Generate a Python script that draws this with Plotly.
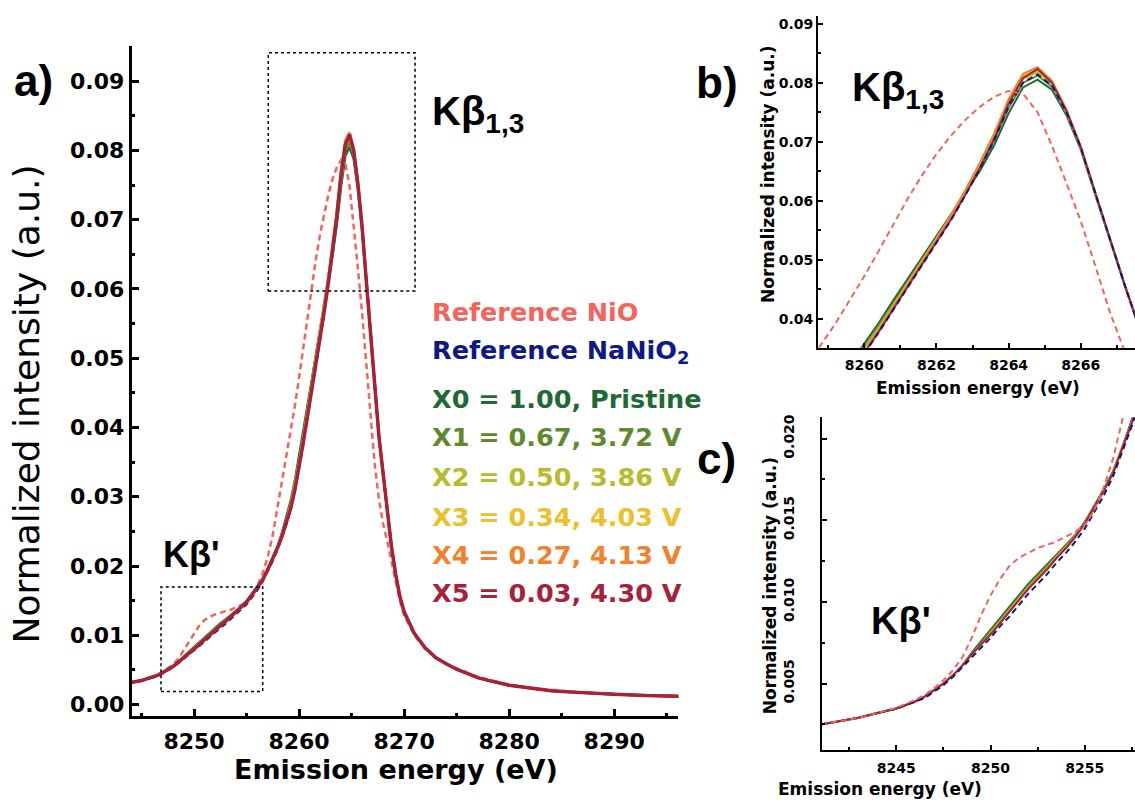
import plotly.graph_objects as go

# ---------------- data ----------------
energy = [8241, 8242, 8243, 8244, 8245, 8246,
          8246.5, 8247, 8247.5, 8248, 8248.5, 8249, 8249.5, 8250, 8250.5, 8251, 8251.5, 8252,
          8252.5, 8253, 8253.5, 8254, 8254.5, 8255, 8255.5, 8256, 8256.5, 8257, 8257.5, 8258,
          8258.4, 8258.8, 8259.2, 8259.6, 8260.0, 8260.4, 8260.8, 8261.2, 8261.6, 8262.0,
          8262.4, 8262.8, 8263.2, 8263.6, 8264.0, 8264.4, 8264.8, 8265.2, 8265.6, 8266.0,
          8266.4, 8266.8, 8267.2, 8267.6, 8268.0, 8268.4, 8268.8, 8269.2, 8269.6, 8270.0,
          8271, 8272, 8273, 8274, 8275, 8276, 8277, 8278, 8280, 8282, 8284, 8286, 8288, 8290, 8293, 8296.5]

ref_nio = [0.0025, 0.0027, 0.0029, 0.0032, 0.0035, 0.0040,
           0.0043, 0.0047, 0.0052, 0.0058, 0.0066, 0.0078, 0.0092, 0.0104, 0.0114, 0.0122, 0.0127, 0.0130,
           0.0133, 0.0135, 0.0137, 0.0140, 0.0143, 0.0147, 0.0156, 0.0170, 0.0188, 0.0212, 0.0245, 0.0290,
           0.0322, 0.0356, 0.0392, 0.0431, 0.0472, 0.0515, 0.0560, 0.0603, 0.0643, 0.0679,
           0.0710, 0.0737, 0.0759, 0.0776, 0.0786, 0.0781, 0.0750, 0.0693, 0.0630, 0.0565,
           0.0490, 0.0412, 0.0347, 0.0297, 0.0261, 0.0235, 0.0208, 0.0178, 0.0150, 0.0129,
           0.0099, 0.0081, 0.0068, 0.0059, 0.0052, 0.0046, 0.0040, 0.0036, 0.0029, 0.0024, 0.0021, 0.0018, 0.0016, 0.0015, 0.0013, 0.0012]

ref_nanio2 = [0.0025, 0.0027, 0.0029, 0.0032, 0.00345, 0.0039,
              0.0041, 0.0045, 0.0049, 0.0054, 0.0060, 0.0066, 0.0072, 0.0078, 0.0085, 0.0091, 0.0098, 0.0105,
              0.0111, 0.0117, 0.0124, 0.0130, 0.0137, 0.0145, 0.0155, 0.0165, 0.0177, 0.0192, 0.0208, 0.0226,
              0.0243, 0.0261, 0.0282, 0.0309, 0.0341, 0.0377, 0.0415, 0.0452, 0.0489, 0.0527,
              0.0567, 0.0609, 0.0654, 0.0703, 0.0760, 0.0800, 0.0814, 0.0795, 0.0750, 0.0690,
              0.0612, 0.0535, 0.0460, 0.0388, 0.0334, 0.0280, 0.0228, 0.0188, 0.0156, 0.0134,
              0.0102, 0.0082, 0.0068, 0.0059, 0.0051, 0.0045, 0.0039, 0.0035, 0.0028, 0.0024, 0.0020, 0.0018, 0.0016, 0.0015, 0.0013, 0.0012]

x0_pristine = [0.0025, 0.0027, 0.0029, 0.0032, 0.00347, 0.0039,
               0.0042, 0.0046, 0.0050, 0.0055, 0.0061, 0.0069, 0.0076, 0.0083, 0.0090, 0.0097, 0.0104, 0.0111,
               0.0117, 0.0123, 0.0129, 0.0135, 0.0141, 0.0149, 0.0159, 0.0169, 0.0180, 0.0195, 0.0212, 0.0230,
               0.0249, 0.0270, 0.0294, 0.0323, 0.0357, 0.0393, 0.0431, 0.0467, 0.0503, 0.0539,
               0.0576, 0.0613, 0.0650, 0.0694, 0.0748, 0.0792, 0.0805, 0.0788, 0.0745, 0.0686,
               0.0610, 0.0534, 0.0460, 0.0388, 0.0334, 0.0280, 0.0228, 0.0188, 0.0156, 0.0134,
               0.0102, 0.0082, 0.0068, 0.0059, 0.0051, 0.0045, 0.0039, 0.0035, 0.0028, 0.0024, 0.0020, 0.0018, 0.0016, 0.0015, 0.0013, 0.0012]

x1_372V = [0.0025, 0.0027, 0.0029, 0.0032, 0.00347, 0.0039,
           0.0042, 0.0046, 0.0050, 0.0055, 0.0061, 0.0068, 0.0075, 0.0082, 0.0089, 0.0096, 0.0103, 0.0110,
           0.0116, 0.0122, 0.0128, 0.0134, 0.0141, 0.0149, 0.0158, 0.0168, 0.0180, 0.0195, 0.0211, 0.0229,
           0.0247, 0.0267, 0.0290, 0.0319, 0.0352, 0.0388, 0.0426, 0.0463, 0.0500, 0.0537,
           0.0575, 0.0614, 0.0656, 0.0702, 0.0757, 0.0800, 0.0812, 0.0793, 0.0748, 0.0688,
           0.0611, 0.0534, 0.0460, 0.0388, 0.0334, 0.0280, 0.0228, 0.0188, 0.0156, 0.0134,
           0.0102, 0.0082, 0.0068, 0.0059, 0.0051, 0.0045, 0.0039, 0.0035, 0.0028, 0.0024, 0.0020, 0.0018, 0.0016, 0.0015, 0.0013, 0.0012]

x2_386V = [0.0025, 0.0027, 0.0029, 0.0032, 0.00347, 0.0039,
           0.0042, 0.0046, 0.0050, 0.0055, 0.0061, 0.0068, 0.0074, 0.0081, 0.0088, 0.0095, 0.0102, 0.0109,
           0.0115, 0.0121, 0.0128, 0.0134, 0.0140, 0.0148, 0.0158, 0.0168, 0.0179, 0.0194, 0.0210, 0.0228,
           0.0246, 0.0265, 0.0288, 0.0316, 0.0349, 0.0385, 0.0423, 0.0460, 0.0497, 0.0535,
           0.0574, 0.0615, 0.0659, 0.0707, 0.0763, 0.0806, 0.0818, 0.0797, 0.0750, 0.0689,
           0.0612, 0.0535, 0.0460, 0.0388, 0.0334, 0.0280, 0.0228, 0.0188, 0.0156, 0.0134,
           0.0102, 0.0082, 0.0068, 0.0059, 0.0051, 0.0045, 0.0039, 0.0035, 0.0028, 0.0024, 0.0020, 0.0018, 0.0016, 0.0015, 0.0013, 0.0012]

x3_403V = [0.0025, 0.0027, 0.0029, 0.0032, 0.00347, 0.0039,
           0.0042, 0.0046, 0.0050, 0.0055, 0.0061, 0.0068, 0.0074, 0.0080, 0.0087, 0.0094, 0.0101, 0.0108,
           0.0114, 0.0120, 0.0127, 0.0133, 0.0140, 0.0148, 0.0158, 0.0168, 0.0179, 0.0194, 0.0210, 0.0228,
           0.0245, 0.0264, 0.0286, 0.0313, 0.0346, 0.0382, 0.0420, 0.0458, 0.0496, 0.0535,
           0.0575, 0.0617, 0.0662, 0.0711, 0.0768, 0.0811, 0.0821, 0.0799, 0.0752, 0.0690,
           0.0612, 0.0535, 0.0460, 0.0388, 0.0334, 0.0280, 0.0228, 0.0188, 0.0156, 0.0134,
           0.0102, 0.0082, 0.0068, 0.0059, 0.0051, 0.0045, 0.0039, 0.0035, 0.0028, 0.0024, 0.0020, 0.0018, 0.0016, 0.0015, 0.0013, 0.0012]

x4_413V = [0.0025, 0.0027, 0.0029, 0.0032, 0.00347, 0.0039,
           0.0042, 0.0046, 0.0050, 0.0055, 0.0061, 0.0068, 0.0074, 0.0080, 0.0087, 0.0094, 0.0101, 0.0108,
           0.0114, 0.0120, 0.0127, 0.0133, 0.0140, 0.0148, 0.0158, 0.0168, 0.0179, 0.0194, 0.0210, 0.0228,
           0.0244, 0.0263, 0.0285, 0.0312, 0.0345, 0.0381, 0.0419, 0.0457, 0.0495, 0.0534,
           0.0575, 0.0618, 0.0664, 0.0714, 0.0772, 0.0815, 0.0826, 0.0803, 0.0755, 0.0692,
           0.0614, 0.0536, 0.0461, 0.0389, 0.0334, 0.0280, 0.0228, 0.0188, 0.0156, 0.0134,
           0.0102, 0.0082, 0.0068, 0.0059, 0.0051, 0.0045, 0.0039, 0.0035, 0.0028, 0.0024, 0.0020, 0.0018, 0.0016, 0.0015, 0.0013, 0.0012]

x5_430V = [0.0025, 0.0027, 0.0029, 0.0032, 0.00347, 0.0039,
           0.0042, 0.0046, 0.0050, 0.0055, 0.0061, 0.0068, 0.0074, 0.0080, 0.0087, 0.0094, 0.0101, 0.0108,
           0.0114, 0.0120, 0.0127, 0.0133, 0.0140, 0.0148, 0.0158, 0.0168, 0.0179, 0.0194, 0.0210, 0.0228,
           0.0244, 0.0262, 0.0283, 0.0310, 0.0342, 0.0378, 0.0416, 0.0453, 0.0490, 0.0528,
           0.0568, 0.0610, 0.0655, 0.0705, 0.0765, 0.0808, 0.0823, 0.0800, 0.0752, 0.0690,
           0.0612, 0.0535, 0.0460, 0.0388, 0.0334, 0.0280, 0.0228, 0.0188, 0.0156, 0.0134,
           0.0102, 0.0082, 0.0068, 0.0059, 0.0051, 0.0045, 0.0039, 0.0035, 0.0028, 0.0024, 0.0020, 0.0018, 0.0016, 0.0015, 0.0013, 0.0012]

labels = ["Reference NiO", "Reference NaNiO<sub>2</sub>", "X0 = 1.00, Pristine",
          "X1 = 0.67, 3.72 V", "X2 = 0.50, 3.86 V", "X3 = 0.34, 4.03 V",
          "X4 = 0.27, 4.13 V", "X5 = 0.03, 4.30 V"]
colors = ["#F5635A", "#0E1987", "#1E6A33", "#5F8A2C", "#B6BC2C", "#EBC12B", "#F2812A", "#A8213A"]
values = [ref_nio, ref_nanio2, x0_pristine, x1_372V, x2_386V, x3_403V, x4_413V, x5_430V]
dashed = [True, True, False, False, False, False, False, False]

# zoom boxes drawn in panel a (data coordinates)
box_k13 = dict(x0=8257.07, x1=8271.04, y0=0.0597, y1=0.0941)
box_kp = dict(x0=8246.86, x1=8256.54, y0=0.0019, y1=0.01697)

W, H = 1135, 802
def px(x):
    return x / W
def py(y):
    return 1 - y / H

fig = go.Figure()

def add_panel(xa, ya, order, wsolid, wlast, wdash):
    for i in order:
        last = (i == order[-1]) and not dashed[i]
        fig.add_trace(go.Scatter(
            x=energy, y=values[i], mode="lines", xaxis=xa, yaxis=ya,
            line=dict(color=colors[i], width=(wlast if last else (wdash if dashed[i] else wsolid)),
                      dash=("6px,4px" if dashed[i] else "solid")),
            showlegend=False, hoverinfo="skip"))

add_panel("x", "y", [0, 1, 2, 3, 4, 5, 6, 7], 2.5, 3.5, 2.5)
add_panel("x2", "y2", [2, 3, 4, 5, 6, 7, 1, 0], 2, 2, 2)
add_panel("x3", "y3", [2, 3, 4, 5, 6, 7, 1, 0], 2, 2, 2)

DJB = dict(family="DejaVu Sans", color="black", weight="bold")
LSB = dict(family="Liberation Sans", color="black", weight="bold")

def axis_common(lw, tl, tw, mlen):
    return dict(showline=True, linecolor="black", linewidth=lw, ticks="inside",
                ticklen=tl, tickwidth=tw, tickcolor="black", showgrid=False, zeroline=False,
                mirror=False, minor=dict(ticks="inside", ticklen=mlen, tickwidth=tw, tickcolor="black"))

layout = dict(
    width=W, height=H, margin=dict(l=0, r=0, t=0, b=0),
    paper_bgcolor="white", plot_bgcolor="white", showlegend=False,
    xaxis=dict(domain=[px(131.7), px(678.3)], range=[8244.07, 8296.1], anchor="y",
               tick0=8250, dtick=10, tickfont=dict(size=22, **DJB), ticklabelstandoff=4,
               **axis_common(3, 7, 2.5, 3)),
    yaxis=dict(domain=[py(717), py(43)], range=[-0.00158, 0.09512], anchor="x",
               tick0=0, dtick=0.01, tickformat=".2f", tickfont=dict(size=22, **DJB), ticklabelstandoff=0,
               **axis_common(3, 7, 2.5, 3)),
    xaxis2=dict(domain=[px(818), 1.0], range=[8258.72, 8267.5], anchor="y2",
                tick0=8260, dtick=2, tickfont=dict(size=14, **DJB), ticklabelstandoff=3,
                **axis_common(2, 5, 1.5, 3)),
    yaxis2=dict(domain=[py(347), py(13)], range=[0.0351, 0.0913], anchor="x2",
                tick0=0.04, dtick=0.01, tickformat=".2f", tickfont=dict(size=14, **DJB), ticklabelstandoff=0,
                **axis_common(2, 5, 1.5, 3)),
    xaxis3=dict(domain=[px(822), 1.0], range=[8241.06, 8257.66], anchor="y3",
                tick0=8245, dtick=5, tickfont=dict(size=14, **DJB), ticklabelstandoff=4,
                **axis_common(2, 5, 1.5, 3)),
    yaxis3=dict(domain=[py(752), py(417)], range=[0.00091, 0.0213], anchor="x3",
                tick0=0.005, dtick=0.005, tickformat=".3f", tickangle=-90,
                tickfont=dict(size=14, **DJB), ticklabelstandoff=20,
                **axis_common(2, 5, 1.5, 3)),
)
layout["xaxis"]["minor"]["dtick"] = 5
layout["yaxis"]["minor"]["dtick"] = 0.005
layout["xaxis2"]["minor"]["dtick"] = 1
layout["yaxis2"]["minor"]["dtick"] = 0.005
layout["xaxis3"]["minor"]["dtick"] = 2.5
layout["yaxis3"]["minor"]["dtick"] = 0.0025
fig.update_layout(**layout)

# dotted zoom boxes in panel a
for b in (box_k13, box_kp):
    fig.add_shape(type="rect", xref="x", yref="y", line=dict(color="black", width=1.5, dash="dot"),
                  fillcolor="rgba(0,0,0,0)", **b)

ann = []
def text(x, y, s, size, font=LSB, xanchor="center", yanchor="middle", angle=0, color="black"):
    f = dict(font)
    f["size"] = size
    f["color"] = color
    ann.append(dict(x=px(x), y=py(y), xref="paper", yref="paper", text=s, showarrow=False,
                    xanchor=xanchor, yanchor=yanchor, textangle=angle, font=f))

# panel labels
text(33, 78, "a)", 44)
text(717, 80, "b)", 44)
text(716, 458, "c)", 44)
# peak labels
text(430, 112, "Kβ<sub>1,3</sub>", 40, xanchor="left")
text(850, 88, "Kβ<sub>1,3</sub>", 40, xanchor="left")
text(161, 555, "Kβ'", 36, xanchor="left")
text(869, 622, "Kβ'", 38, xanchor="left")
# legend-like labels
legend_y = [311, 351, 398, 437, 477, 517, 555, 594]
for lab, col, yy in zip(labels, colors, legend_y):
    text(430, yy, lab, 25.5, font=DJB, xanchor="left", color=col)
# axis titles
text(396, 771, "Emission energy (eV)", 27, font=DJB)
text(26, 404, "Normalized intensity (a.u.)", 36, font=dict(family="DejaVu Sans", weight="normal"), angle=-90)
text(978, 387, "Emission energy (eV)", 17, font=DJB)
text(768, 173, "Normalized intensity (a.u.)", 17, font=DJB, angle=-90)
text(880, 791, "Emission energy (eV)", 17, font=DJB)
text(770, 587, "Normalized intensity (a.u.)", 17, font=DJB, angle=-90)
fig.update_layout(annotations=ann)

fig.write_html("out.html")
